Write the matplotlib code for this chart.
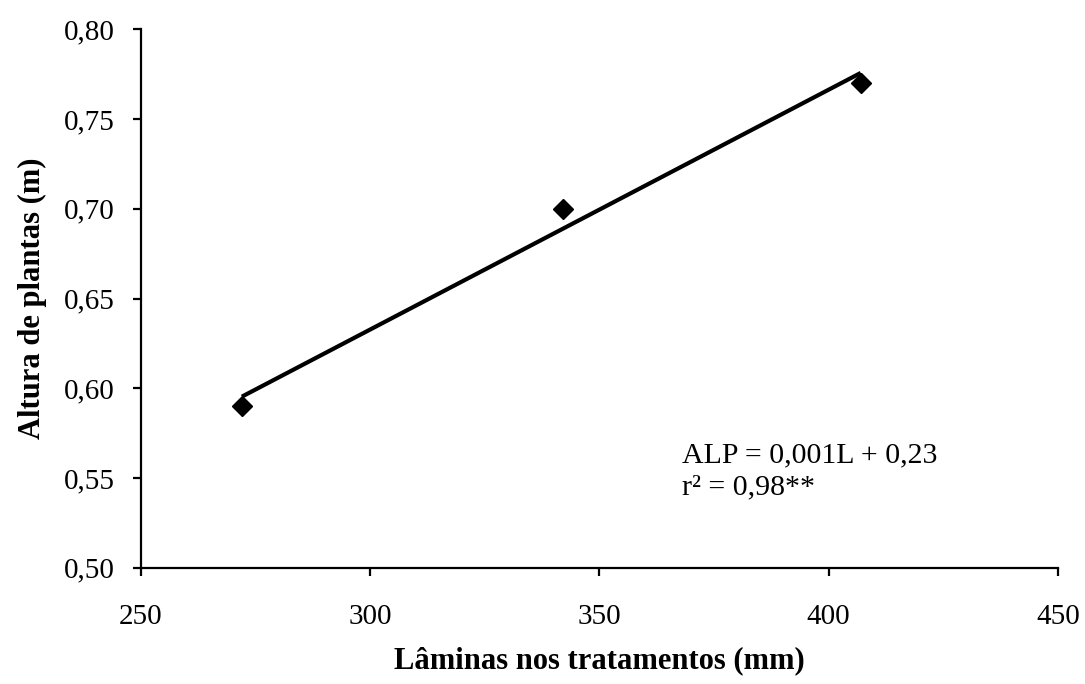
import numpy as np
import matplotlib
matplotlib.use("Agg")
import matplotlib.pyplot as plt
from matplotlib.ticker import FuncFormatter

# --- data ---
laminas = [272, 342, 407]          # mm
altura = [0.59, 0.70, 0.77]        # m
x_ticks = [250, 300, 350, 400, 450]
y_ticks = [0.50, 0.55, 0.60, 0.65, 0.70, 0.75, 0.80]
equation = "ALP = 0,001L + 0,23"
r2_text = "r² = 0,98**"

plt.rcParams['font.family'] = ['Liberation Serif', 'DejaVu Serif']

fig = plt.figure(figsize=(10.85, 6.84), dpi=100)
ax = fig.add_axes([0.130, 0.170, 0.845, 0.787])

# linear trend through the observed points
coef = np.polyfit(laminas, altura, 1)
xl = np.array([min(laminas), max(laminas)])
ax.plot(xl, np.polyval(coef, xl), color='black', linewidth=3.0, solid_capstyle='butt')
ax.plot(laminas, altura, linestyle='none', marker='D', markersize=10,
        color='black')

ax.set_xlim(250, 450)
ax.set_ylim(0.50, 0.80)
ax.set_xticks(x_ticks)
ax.set_yticks(y_ticks)
ax.yaxis.set_major_formatter(FuncFormatter(lambda v, p: f"{v:.2f}".replace('.', ',')))
ax.xaxis.set_major_formatter(FuncFormatter(lambda v, p: f"{v:.0f}"))

for s in ['top', 'right']:
    ax.spines[s].set_visible(False)
for s in ['left', 'bottom']:
    ax.spines[s].set_linewidth(1.6)

ax.tick_params(axis='both', direction='out', length=6, width=1.6, labelsize=21,
               colors='black')
ax.tick_params(axis='y', pad=13)
ax.tick_params(axis='x', pad=20)

ax.set_xlabel("Lâminas nos tratamentos (mm)", fontsize=22, fontweight='bold', labelpad=12)
ax.set_ylabel("Altura de plantas (m)", fontsize=22, fontweight='bold', labelpad=12)

ax.text(0.590, 0.195, equation, transform=ax.transAxes, fontsize=21.5, va='baseline')
ax.text(0.590, 0.136, r2_text, transform=ax.transAxes, fontsize=21.5, va='baseline')

fig.savefig("out.png", dpi=100)
